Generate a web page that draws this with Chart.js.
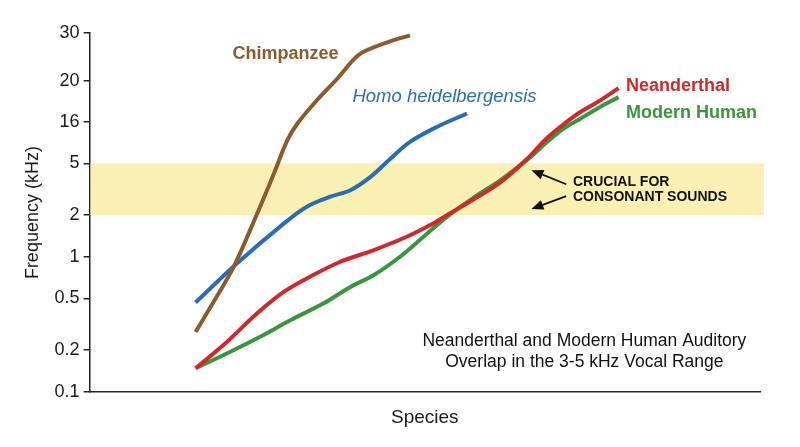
<!DOCTYPE html>
<html>
<head>
<meta charset="utf-8">
<script src="https://cdn.jsdelivr.net/npm/chart.js@4.4.1/dist/chart.umd.min.js"></script>
<style>
  html, body { margin: 0; padding: 0; background: #ffffff; }
  #wrap { width: 800px; height: 447px; }
</style>
</head>
<body>
<div id="wrap"><canvas id="c" width="800" height="447"></canvas></div>
<script>
// ---- Axis tick labels (kHz) ----
const yTickValues = [0.1, 0.2, 0.5, 1, 2, 5, 16, 20, 30];
const yTickLabels = ['0.1', '0.2', '0.5', '1', '2', '5', '16', '20', '30'];

// ---- Series (x: position along "Species" axis, y: frequency in kHz) ----
const chimpX = [15.8, 18.5, 21.5, 25.0, 27.5, 29.5, 31.0, 33.9, 37.0, 39.3, 40.8, 44.4, 47.8];
const chimpY = [0.275, 0.47, 0.847, 2.06, 4.19, 9.64, 15.4, 18.0, 20.4, 23.8, 25.5, 27.7, 29.4];

const heidelX = [15.8, 22.0, 29.0, 32.4, 35.9, 38.9, 41.9, 44.9, 47.8, 51.8, 56.3];
const heidelY = [0.464, 0.896, 1.742, 2.32, 2.77, 3.11, 3.94, 5.76, 9.19, 14.0, 16.76];

const neanderX = [15.8, 20.0, 25.0, 29.0, 32.9, 37.4, 42.4, 47.3, 50.8, 53.3, 57.3, 61.3, 65.2, 68.2, 70.7, 73.2, 75.7, 78.9];
const neanderY = [0.148, 0.219, 0.383, 0.558, 0.717, 0.920, 1.118, 1.394, 1.694, 2.0, 2.65, 3.59, 5.64, 10.2, 15.1, 16.9, 17.8, 19.2];

const modernX = [15.8, 20.0, 25.0, 30.0, 34.9, 38.9, 42.4, 46.3, 49.8, 53.3, 57.3, 61.3, 65.2, 68.2, 70.7, 73.2, 75.7, 78.9];
const modernY = [0.148, 0.184, 0.246, 0.340, 0.457, 0.604, 0.737, 1.0, 1.394, 1.944, 2.73, 3.72, 5.49, 9.11, 13.4, 16.3, 17.2, 18.3];

const bandLow = 2, bandHigh = 5;   // kHz range highlighted

// ---- Axis layout: the original axis spaces its ticks unevenly ----
const yTickSpacing = [0, 42.3, 94, 135.6, 177.3, 229, 270.3, 312, 359.6];
function toPos(v) {
  for (let i = 0; i < yTickValues.length - 1; i++) {
    const a = yTickValues[i], b = yTickValues[i + 1];
    if (v <= b || i === yTickValues.length - 2) {
      const t = (Math.log(v) - Math.log(a)) / (Math.log(b) - Math.log(a));
      return yTickSpacing[i] + t * (yTickSpacing[i + 1] - yTickSpacing[i]);
    }
  }
}
function series(xs, ys) { return xs.map((x, i) => ({ x: x, y: toPos(ys[i]) })); }

const FONT = "'Liberation Sans', Arial, Helvetica, sans-serif";
Chart.defaults.font.family = FONT;

const COLORS = { chimp: '#8c5a2c', heidel: '#2a6db3', neander: '#d3282b', modern: '#3a963d' };

const bandPlugin = {
  id: 'band',
  beforeDatasetsDraw(chart) {
    const { ctx, chartArea, scales } = chart;
    const yTop = scales.y.getPixelForValue(toPos(bandHigh));
    const yBot = scales.y.getPixelForValue(toPos(bandLow));
    ctx.save();
    ctx.fillStyle = 'rgb(250,240,180)';
    ctx.fillRect(chartArea.left + 1, yTop, chartArea.right + 3 - chartArea.left, yBot - yTop);
    ctx.restore();
  }
};

function arrow(ctx, x1, y1, x2, y2) {
  const ang = Math.atan2(y2 - y1, x2 - x1);
  const hl = 12, hw = 5;
  const bx = x2 - hl * Math.cos(ang), by = y2 - hl * Math.sin(ang);
  ctx.beginPath();
  ctx.moveTo(x1, y1);
  ctx.lineTo(bx, by);
  ctx.lineWidth = 1.8;
  ctx.strokeStyle = '#111';
  ctx.stroke();
  ctx.beginPath();
  ctx.moveTo(x2, y2);
  ctx.lineTo(bx + hw * Math.sin(ang), by - hw * Math.cos(ang));
  ctx.lineTo(bx - hw * Math.sin(ang), by + hw * Math.cos(ang));
  ctx.closePath();
  ctx.fillStyle = '#111';
  ctx.fill();
}

const labelPlugin = {
  id: 'labels',
  afterDatasetsDraw(chart) {
    const { ctx, chartArea: a } = chart;
    const X = f => a.left + f * (a.right - a.left);
    const Y = f => a.top + f * (a.bottom - a.top);
    ctx.save();
    ctx.textBaseline = 'middle';
    ctx.textAlign = 'left';
    ctx.font = 'bold 18px ' + FONT;
    ctx.fillStyle = COLORS.chimp;   ctx.fillText('Chimpanzee', X(0.213), Y(0.0585));
    ctx.fillStyle = COLORS.neander; ctx.fillText('Neanderthal', X(0.800), Y(0.148));
    ctx.fillStyle = COLORS.modern;  ctx.fillText('Modern Human', X(0.800), Y(0.223));
    ctx.font = 'italic 18.5px ' + FONT;
    ctx.fillStyle = COLORS.heidel;  ctx.fillText('Homo heidelbergensis', X(0.392), Y(0.178));
    ctx.font = 'bold 14px ' + FONT;
    ctx.fillStyle = '#111';
    ctx.fillText('CRUCIAL FOR', X(0.721), Y(0.415));
    ctx.fillText('CONSONANT SOUNDS', X(0.721), Y(0.457));
    arrow(ctx, X(0.711), Y(0.421), X(0.659), Y(0.382));
    arrow(ctx, X(0.711), Y(0.454), X(0.659), Y(0.490));
    ctx.font = '17.5px ' + FONT;
    ctx.textAlign = 'center';
    ctx.fillStyle = '#111';
    ctx.fillText('Neanderthal and Modern Human Auditory', X(0.738), Y(0.859));
    ctx.fillText('Overlap in the 3-5 kHz Vocal Range', X(0.738), Y(0.916));
    ctx.restore();
  }
};

const lineStyle = { borderWidth: 4, pointRadius: 0, pointHoverRadius: 0, tension: 0.35, fill: false, borderCapStyle: 'butt' };

new Chart(document.getElementById('c'), {
  type: 'line',
  data: {
    datasets: [
      Object.assign({ label: 'Chimpanzee', data: series(chimpX, chimpY), borderColor: COLORS.chimp }, lineStyle),
      Object.assign({ label: 'Homo heidelbergensis', data: series(heidelX, heidelY), borderColor: COLORS.heidel }, lineStyle),
      Object.assign({ label: 'Neanderthal', data: series(neanderX, neanderY), borderColor: COLORS.neander }, lineStyle),
      Object.assign({ label: 'Modern Human', data: series(modernX, modernY), borderColor: COLORS.modern }, lineStyle)
    ]
  },
  options: {
    responsive: false,
    animation: false,
    devicePixelRatio: 1,
    layout: { padding: { top: 33, right: 40, left: 15, bottom: 18 } },
    plugins: { legend: { display: false }, tooltip: { enabled: false } },
    scales: {
      x: {
        type: 'linear', min: 0, max: 100,
        ticks: { display: false },
        grid: { display: true, drawOnChartArea: false, drawTicks: false },
        border: { display: true, color: '#222', width: 1.5 },
        title: { display: true, text: 'Species', font: { size: 19 }, color: '#1a1a1a', padding: { top: 14, bottom: 0 } }
      },
      y: {
        type: 'linear', min: 0, max: yTickSpacing[yTickSpacing.length - 1],
        afterBuildTicks: axis => { axis.ticks = yTickSpacing.map(v => ({ value: v })); },
        ticks: { callback: (v, i) => yTickLabels[i], font: { size: 18 }, color: '#1a1a1a', padding: 4, autoSkip: false },
        grid: { drawOnChartArea: false, drawTicks: true, tickLength: 6, color: '#222', lineWidth: 1.5 },
        border: { display: true, color: '#222', width: 1.5 },
        title: { display: true, text: 'Frequency (kHz)', font: { size: 18 }, color: '#1a1a1a', padding: { top: 7, bottom: 7 } }
      }
    }
  },
  plugins: [bandPlugin, labelPlugin]
});
</script>
</body>
</html>
